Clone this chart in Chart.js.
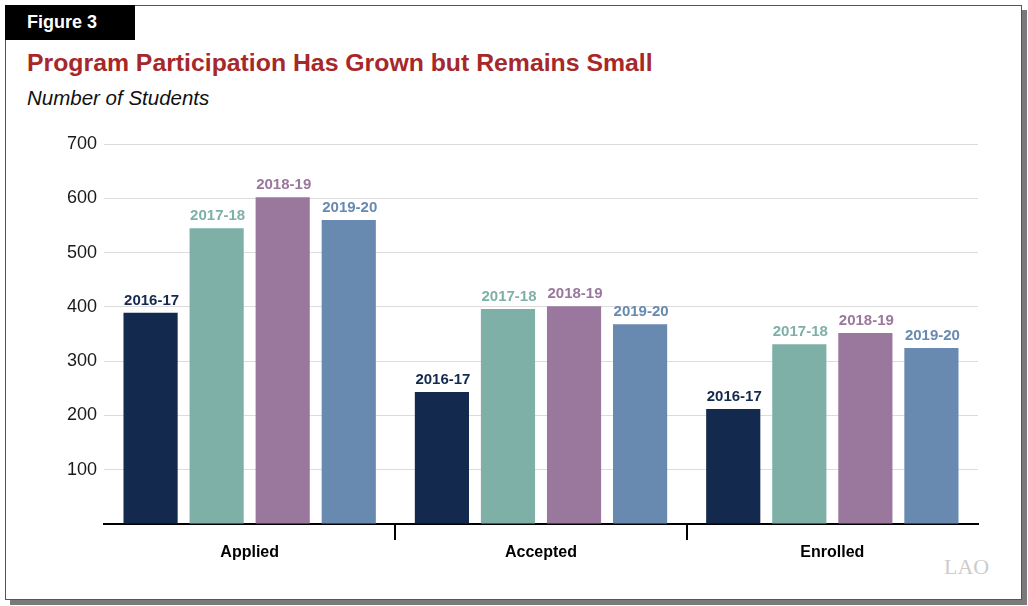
<!DOCTYPE html>
<html>
<head>
<meta charset="utf-8">
<script src="https://cdn.jsdelivr.net/npm/chart.js@4.4.0/dist/chart.umd.min.js"></script>
<style>
  html, body { margin: 0; padding: 0; background: #ffffff; }
  body { width: 1028px; height: 606px; position: relative; overflow: hidden; font-family: "Liberation Sans", Arial, sans-serif; }
  #shadow { position: absolute; left: 10px; top: 10px; width: 1017px; height: 595px; background: #7a7a7a; }
  #frame { position: absolute; left: 5px; top: 5px; width: 1015px; height: 593px; background: #fff; border: 1px solid #555; }
  #fig { position: absolute; left: 5px; top: 5px; width: 130px; height: 35px; background: #000; color: #fff; font-weight: bold; font-size: 18px; line-height: 35px; box-sizing: border-box; padding-left: 22px; }
  #title { position: absolute; left: 27px; top: 49px; color: #a6282b; font-weight: bold; font-size: 24.8px; white-space: nowrap; }
  #subtitle { position: absolute; left: 27px; top: 86px; color: #111; font-style: italic; font-size: 20.5px; white-space: nowrap; }
  #logo { position: absolute; left: 944px; top: 554px; color: #cccccc; font-family: "Liberation Serif", serif; font-size: 22px; }
  canvas { position: absolute; left: 0; top: 0; }
</style>
</head>
<body>
<div id="shadow"></div>
<div id="frame"></div>
<div id="fig">Figure 3</div>
<div id="title">Program Participation Has Grown but Remains Small</div>
<div id="subtitle">Number of Students</div>
<div id="logo">LAO</div>
<canvas id="c" width="1028" height="606"></canvas>
<script>
const categories = ["Applied", "Accepted", "Enrolled"];
const seriesLabels = ["2016-17", "2017-18", "2018-19", "2019-20"];
const values2016 = [389, 243, 212];
const values2017 = [545, 396, 331];
const values2018 = [602, 401, 352];
const values2019 = [560, 368, 324];
const seriesColors = ["#132a4e", "#7fb0a8", "#9a779c", "#6889b0"];
const yTicks = [0, 100, 200, 300, 400, 500, 600, 700];

const allValues = [values2016, values2017, values2018, values2019];

const barLabelPlugin = {
  id: 'barLabels',
  afterDatasetsDraw(chart) {
    const ctx = chart.ctx;
    ctx.save();
    ctx.font = 'bold 15px "Liberation Sans", Arial, sans-serif';
    ctx.textAlign = 'center';
    ctx.textBaseline = 'alphabetic';
    chart.data.datasets.forEach((ds, di) => {
      const meta = chart.getDatasetMeta(di);
      ctx.fillStyle = ds.backgroundColor;
      meta.data.forEach((bar) => {
        ctx.fillText(ds.label, bar.x + 1, bar.y - 8);
      });
    });
    ctx.restore();
  }
};

const separatorPlugin = {
  id: 'separators',
  afterDraw(chart) {
    const xs = chart.scales.x;
    const ctx = chart.ctx;
    const bottom = chart.chartArea.bottom;
    ctx.save();
    ctx.strokeStyle = '#000';
    ctx.lineWidth = 2;
    for (let i = 1; i < categories.length; i++) {
      const x = Math.round((xs.getPixelForValue(i - 1) + xs.getPixelForValue(i)) / 2);
      ctx.beginPath();
      ctx.moveTo(x, bottom);
      ctx.lineTo(x, bottom + 16);
      ctx.stroke();
    }
    ctx.restore();
  }
};

new Chart(document.getElementById('c'), {
  type: 'bar',
  data: {
    labels: categories,
    datasets: seriesLabels.map((lab, i) => ({
      label: lab,
      data: allValues[i],
      backgroundColor: seriesColors[i],
      borderWidth: 0,
      categoryPercentage: 0.907,
      barPercentage: 0.82
    }))
  },
  options: {
    responsive: false,
    animation: false,
    devicePixelRatio: 1,
    layout: { padding: { left: 40, top: 144, right: 50, bottom: 0 } },
    plugins: { legend: { display: false }, tooltip: { enabled: false } },
    scales: {
      x: {
        grid: { display: false, drawTicks: false },
        border: { display: true, color: '#000', width: 2 },
        ticks: {
          color: '#000',
          padding: 19,
          font: { family: '"Liberation Sans", Arial, sans-serif', size: 16, weight: 'bold' }
        },
        afterFit(scale) { scale.height = 82; }
      },
      y: {
        min: 0,
        max: 700,
        afterBuildTicks(scale) { scale.ticks = yTicks.map(v => ({ value: v })); },
        grid: { color: '#dcdcdc', lineWidth: 1, drawTicks: false },
        border: { display: false },
        ticks: {
          color: '#1a1a1a',
          padding: 7,
          font: { family: '"Liberation Sans", Arial, sans-serif', size: 18 },
          callback: (v) => v === 0 ? '' : String(v)
        },
        afterFit(scale) { scale.width = 64; }
      }
    }
  },
  plugins: [barLabelPlugin, separatorPlugin]
});
</script>
</body>
</html>
